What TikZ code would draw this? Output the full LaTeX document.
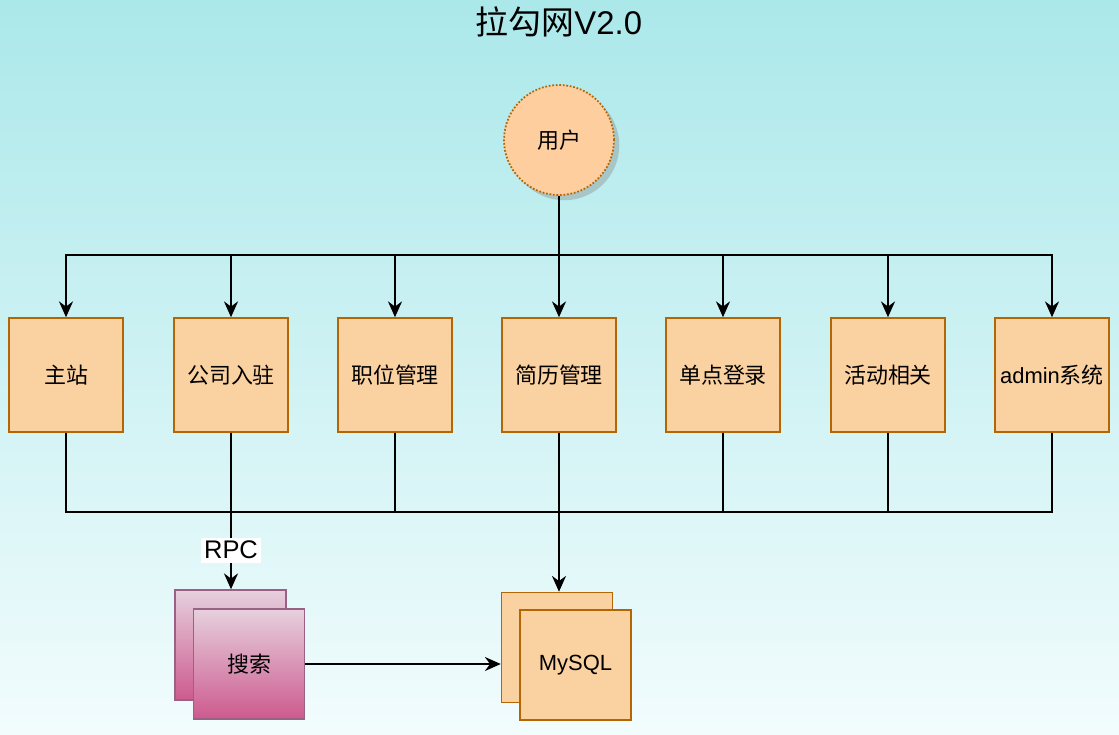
\documentclass[tikz,border=0pt]{standalone}
\usepackage{fontspec}
\setmainfont{Liberation Sans}
\newfontfamily\cjk{Noto Sans CJK SC}
\usepackage{xcolor}
\usetikzlibrary{arrows.meta,shadows}
\definecolor{bgtop}{HTML}{ABE8EA}
\definecolor{bgbot}{HTML}{F2FCFD}
\definecolor{boxfill}{HTML}{FAD1A0}
\definecolor{boxline}{HTML}{B46504}
\definecolor{pinktop}{HTML}{E6D0DE}
\definecolor{pinkbot}{HTML}{CD5A8E}
\definecolor{pinkline}{HTML}{996185}
\definecolor{userfill}{HTML}{FFCE9F}
\begin{document}
\begin{tikzpicture}[
  x=0.02cm, y=-0.02cm,
  every node/.style={font=\fontsize{12.5}{15}\selectfont},
  module/.style={
    draw=boxline,
    fill=boxfill,
    line width=0.9pt,
    minimum width=2.28cm,
    minimum height=2.28cm,
    inner sep=0pt,
    align=center
  },
  store/.style={module, minimum width=2.22cm, minimum height=2.2cm},
  searchbox/.style={
    draw=pinkline,
    line width=0.9pt,
    top color=pinktop,
    bottom color=pinkbot,
    minimum width=2.22cm,
    minimum height=2.2cm,
    inner sep=0pt
  },
  arr/.style={-{Stealth[length=9pt,width=8pt]}, line width=1pt},
  link/.style={line width=1pt}
]

% background
\shade[top color=bgtop, bottom color=bgbot] (0,0) rectangle (1119,734);
\useasboundingbox (0,0) rectangle (1119,734);

\node (title) at (559,22) {\fontsize{18.7}{22}\selectfont\cjk 拉勾网\rmfamily V2.0};

\node[circle, minimum size=2.2cm, fill=userfill, draw=boxline,
  dash pattern=on 1pt off 1pt, line width=1pt,
  drop shadow={opacity=0.35, shadow xshift=3pt, shadow yshift=-3pt}]
  (user) at (559,140) {\cjk 用户};

\node[module] (main) at (66,375) {\cjk 主站};
\node[module] (company) at (231,375) {\cjk 公司入驻};
\node[module] (job) at (395,375) {\cjk 职位管理};
\node[module] (resume) at (559,375) {\cjk 简历管理};
\node[module] (sso) at (723,375) {\cjk 单点登录};
\node[module] (activity) at (888,375) {\cjk 活动相关};
\node[module] (admin) at (1052,375) {admin{\cjk 系统}};

\node[searchbox] (searchback) at (230.5,645) {};
\node[searchbox] (search) at (249,664) {\cjk 搜索};

\node[store] (mysqlback) at (557,647.5) {};
\node[store] (mysql) at (575.5,665) {MySQL};

% user to modules
\coordinate (topbus) at (559,255);
\draw[link] (user) -- (topbus);
\foreach \m in {main,company,job,resume,sso,activity,admin}
  \draw[arr] (topbus) -| (\m);

% modules to storage
\coordinate (botbus) at (559,512);
\foreach \m in {main,company,job,resume,sso,activity,admin}
  \draw[link] (\m) |- (botbus);
\draw[arr] (botbus) -- (botbus |- mysqlback.north);

\draw[arr] (company) -- node[pos=0.75, fill=white, inner sep=2pt,
  font=\fontsize{14.5}{17}\selectfont] (rpc) {RPC} (company |- searchback.north);
\draw[arr] (search) -- (search -| mysqlback.west);

\end{tikzpicture}
\end{document}
